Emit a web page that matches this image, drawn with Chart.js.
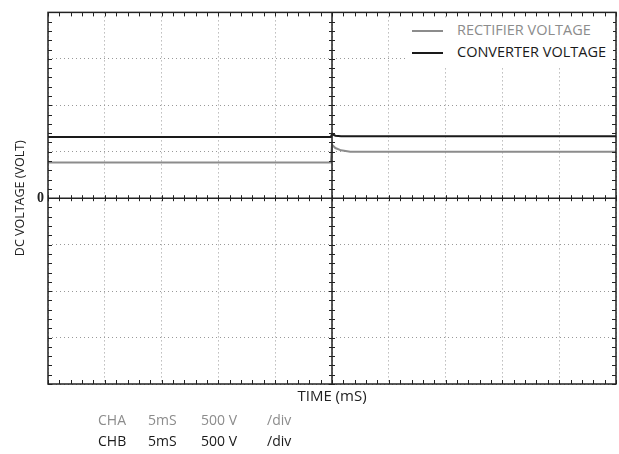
<!DOCTYPE html>
<html>
<head>
<meta charset="utf-8">
<script src="https://cdn.jsdelivr.net/npm/chart.js@4"></script>
<style>
  html, body { margin: 0; padding: 0; background: #fff; }
  #wrap { position: relative; width: 619px; height: 454px; }
  #legend {
    position: absolute; left: 405px; top: 19px; width: 208px; height: 48px;
    background: #fff; font-family: "Open Sans", sans-serif; font-size: 14.5px;
  }
  .lg { position: absolute; left: 7px; width: 31px; height: 2px; }
  .lt { position: absolute; left: 52px; white-space: nowrap; }
  .ch { position: absolute; font-family: "Open Sans", sans-serif; font-size: 14px; white-space: nowrap; }
</style>
</head>
<body>
<div id="wrap">
  <canvas id="scope" width="619" height="454"></canvas>
  <div id="legend">
    <div class="lg" style="top:11px;background:#8c8c8c"></div>
    <div class="lt" style="top:1px;color:#8c8c8c">RECTIFIER VOLTAGE</div>
    <div class="lg" style="top:33px;background:#1a1a1a"></div>
    <div class="lt" style="top:23px;color:#1a1a1a">CONVERTER VOLTAGE</div>
  </div>
  <div class="ch" style="left:98px;top:410px;color:#8c8c8c">CHA</div>
  <div class="ch" style="left:148px;top:410px;color:#8c8c8c">5mS</div>
  <div class="ch" style="left:201px;top:410px;color:#8c8c8c">500 V</div>
  <div class="ch" style="left:267px;top:410px;color:#8c8c8c">/div</div>
  <div class="ch" style="left:98px;top:431px;color:#1a1a1a">CHB</div>
  <div class="ch" style="left:148px;top:431px;color:#1a1a1a">5mS</div>
  <div class="ch" style="left:201px;top:431px;color:#1a1a1a">500 V</div>
  <div class="ch" style="left:267px;top:431px;color:#1a1a1a">/div</div>
</div>
<script>
// time in mS, voltages in V
const timeMs = [0, 10, 24.9, 25.0, 25.3, 25.8, 26.6, 40, 50];
const rectifierV = [385, 385, 385, 575, 540, 515, 500, 500, 500];
const converterV = [660, 660, 660, 690, 672, 668, 668, 668, 668];

const xMin = 0, xMax = 50, xStep = 5, xMinor = 1;
const yMin = -2000, yMax = 2000, yStep = 500, yMinor = 100;

const pts = (vals) => timeMs.map((t, i) => ({ x: t, y: vals[i] }));

// frame, centre axes and the small division ticks of the scope screen
const scopeFrame = {
    id: 'scopeFrame',
    afterDatasetsDraw(chart) {
        const { ctx, chartArea: a, scales: { x, y } } = chart;
        const cx = x.getPixelForValue(25);
        const cy = y.getPixelForValue(0);
        ctx.save();
        ctx.strokeStyle = '#222';
        ctx.lineWidth = 1.5;
        ctx.strokeRect(a.left, a.top, a.right - a.left, a.bottom - a.top);
        ctx.beginPath();
        ctx.moveTo(a.left, cy); ctx.lineTo(a.right, cy);
        ctx.moveTo(cx, a.top); ctx.lineTo(cx, a.bottom);
        ctx.stroke();

        ctx.lineWidth = 1;
        ctx.beginPath();
        for (let t = xMin; t <= xMax; t += xMinor) {
            const px = Math.round(x.getPixelForValue(t)) + 0.5;
            ctx.moveTo(px, a.top); ctx.lineTo(px, a.top + 4);
            ctx.moveTo(px, a.bottom); ctx.lineTo(px, a.bottom - 4);
            ctx.moveTo(px, cy - 3); ctx.lineTo(px, cy + 3);
        }
        for (let v = yMin; v <= yMax; v += yMinor) {
            const py = Math.round(y.getPixelForValue(v)) + 0.5;
            ctx.moveTo(a.left, py); ctx.lineTo(a.left + 4, py);
            ctx.moveTo(a.right, py); ctx.lineTo(a.right - 4, py);
            ctx.moveTo(cx - 3, py); ctx.lineTo(cx + 3, py);
        }
        ctx.stroke();
        ctx.restore();
    }
};

new Chart(document.getElementById('scope'), {
    type: 'line',
    data: {
        datasets: [
            {
                label: 'RECTIFIER VOLTAGE',
                data: pts(rectifierV),
                borderColor: '#8c8c8c',
                borderWidth: 2,
                pointRadius: 0,
                tension: 0
            },
            {
                label: 'CONVERTER VOLTAGE',
                data: pts(converterV),
                borderColor: '#1a1a1a',
                borderWidth: 2,
                pointRadius: 0,
                tension: 0
            }
        ]
    },
    options: {
        responsive: false,
        animation: false,
        layout: { padding: { top: 9, right: 3, left: 0, bottom: 0 } },
        plugins: {
            legend: { display: false },
            tooltip: { enabled: false }
        },
        scales: {
            x: {
                type: 'linear',
                min: xMin, max: xMax,
                ticks: { stepSize: xStep, display: false },
                grid: { color: '#999', drawTicks: false, lineWidth: 1 },
                border: { display: false, dash: [1, 3] },
                title: {
                    display: true,
                    text: 'TIME (mS)',
                    color: '#222',
                    font: { family: 'Open Sans', size: 15 },
                    padding: { top: 0, bottom: 48 }
                },
                afterFit(scale) { scale.height = 70; }
            },
            y: {
                min: yMin, max: yMax,
                ticks: {
                    stepSize: yStep,
                    autoSkip: false,
                    padding: 4,
                    color: '#222',
                    font: { family: 'Liberation Serif', size: 14, weight: 'bold' },
                    callback: (v) => (v === 0 ? '0' : '')
                },
                grid: { color: '#999', drawTicks: false, lineWidth: 1 },
                border: { display: false, dash: [1, 3] },
                title: {
                    display: true,
                    text: 'DC VOLTAGE (VOLT)',
                    color: '#222',
                    font: { family: 'Open Sans', size: 12.5 },
                    padding: { top: 13, bottom: 0 }
                },
                afterFit(scale) { scale.width = 48; }
            }
        }
    },
    plugins: [scopeFrame]
});
</script>
</body>
</html>
